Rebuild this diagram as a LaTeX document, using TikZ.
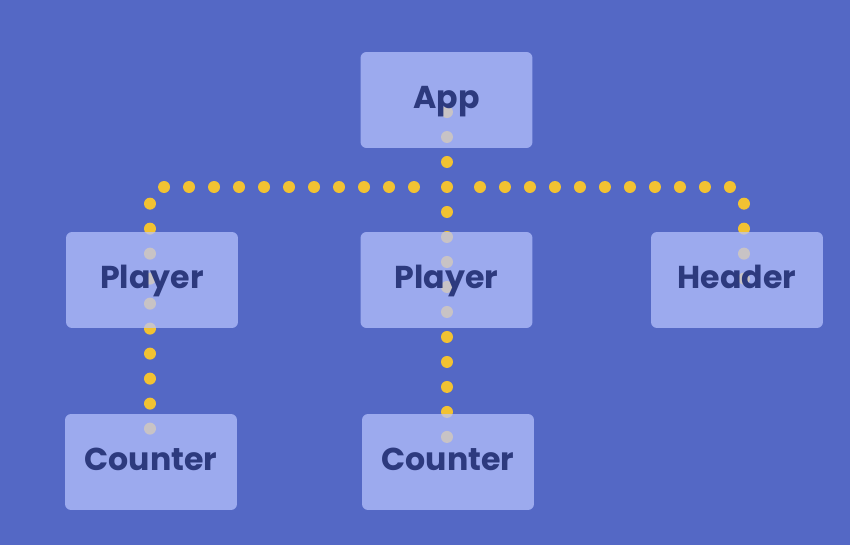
\documentclass[tikz,border=0pt]{standalone}
\usepackage{fontspec}
\setmainfont{Poppins}
\usepackage{tikz}
\usetikzlibrary{positioning}
\definecolor{bgblue}{HTML}{5468C5}
\definecolor{boxblue}{HTML}{B9C4FF}
\definecolor{navy}{HTML}{2D3A7E}
\definecolor{dotyellow}{HTML}{F2C232}

\begin{document}
\begin{tikzpicture}[x=0.02cm, y=-0.02cm,
    comp/.style={fill=boxblue, fill opacity=0.72, text opacity=1, text=navy,
      rounded corners=0.12cm, minimum width=3.44cm, minimum height=1.92cm,
      text height=0.44cm, text depth=0.12cm,
      font=\fontsize{18}{20}\selectfont\bfseries},
    link/.style={dotyellow, line width=0.24cm, line cap=round,
      dash pattern=on 0pt off 0.5cm, rounded corners=0.26cm}]
    \fill[bgblue] (0,0) rectangle (850,545);
    \useasboundingbox (0,0) rectangle (850,545);
    % links first, boxes on top
    \coordinate (apptop) at (447,112);
    \coordinate (midend) at (447,440);
    \coordinate (leftstart) at (414,187);
    \coordinate (leftend) at (150,430);
    \coordinate (rightstart) at (480,187);
    \coordinate (rightend) at (744,300);
    \draw[link] (apptop) -- (midend);
    \draw[link] (leftstart) -| (leftend);
    \draw[link] (rightstart) -| (rightend);
    % components
    \node[comp] (app) at (446.5,100) {App};
    \node[comp] (player1) at (152,280) {Player};
    \node[comp] (player2) at (446.5,280) {Player};
    \node[comp] (header) at (737,280) {Header};
    \node[comp] (counter1) at (151,462) {Counter};
    \node[comp] (counter2) at (448,462) {Counter};
\end{tikzpicture}
\end{document}
